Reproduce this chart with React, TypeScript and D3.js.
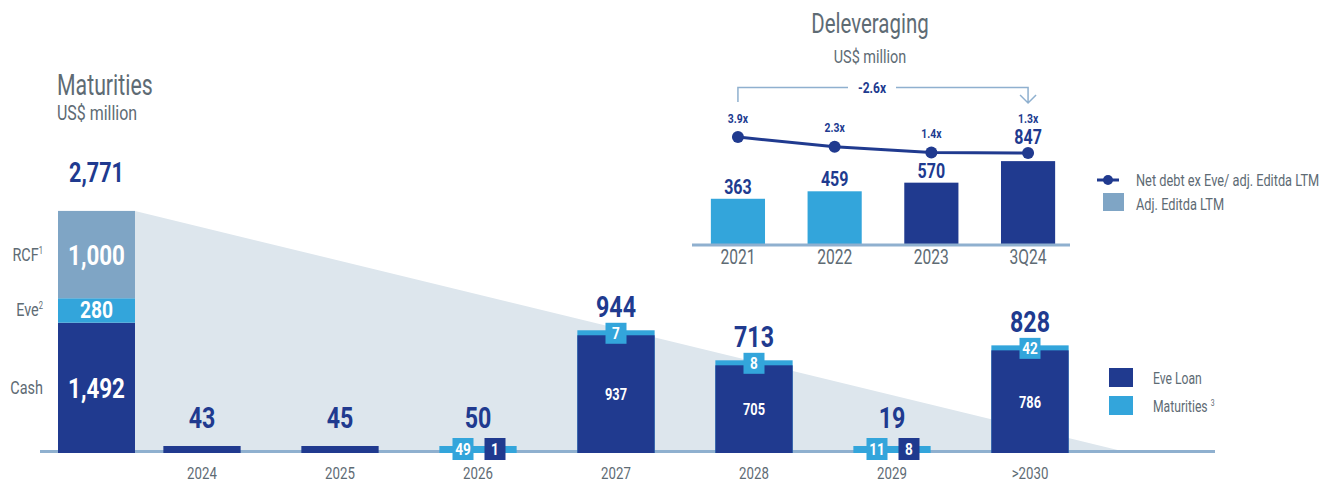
import React from 'react';
import * as d3 from 'd3';

// maturities
const years = ['2024', '2025', '2026', '2027', '2028', '2029', '>2030'];
const eveLoan = [43, 45, 1, 937, 705, 8, 786];
const maturities = [0, 0, 49, 7, 8, 11, 42];
const totals = [43, 45, 50, 944, 713, 19, 828];

// liquidity bar
const liqNames = ['Cash', 'Eve', 'RCF'];
const liqSup = ['', '2', '1'];
const liqValues = [1492, 280, 1000];
const liqTotal = 2771;

// deleveraging inset
const periods = ['2021', '2022', '2023', '3Q24'];
const ebitda = [363, 459, 570, 847];
const leverage = [3.9, 2.3, 1.4, 1.3];
const leverageLabels = ['3.9x', '2.3x', '1.4x', '1.3x'];
const deltaLabel = '-2.6x';

const DARK = '#203a8f';
const LIGHT = '#33a5db';
const STEEL = '#7fa5c5';
const SHADE = '#dde6ed';
const AXIS = '#8fb0cf';
const GREY = '#5e6b74';
const FONT = 'Roboto, "Liberation Sans", sans-serif';

const fmt = d3.format(',');

// narrow text: the original uses a condensed face, so squeeze Roboto horizontally
const T = ({ x, y, size, bold = false, fill = GREY, anchor = 'start', sx = 0.76, children }: any) => (
  <text transform={`translate(${x},${y}) scale(${sx},1)`} fontSize={size} fontWeight={bold ? 'bold' : 'normal'}
    fill={fill} textAnchor={anchor} fontFamily={FONT}>{children}</text>
);

export default function App() {
  const W = 1333, H = 482;
  const base = 453;

  const x = d3.scaleBand().domain(years).range([133, 1099]).paddingInner(0.44).paddingOuter(0.22);
  const y = d3.scaleLinear().domain([0, 1000]).range([base, base - 130]);
  const yLiq = d3.scaleLinear().domain([0, liqTotal]).range([base, 211]);
  const liqX = 58, liqW = 77;

  let acc = 0;
  const liqSegs = liqValues.map((v, i) => {
    const s = { name: liqNames[i], sup: liqSup[i], v, y0: acc, y1: acc + v };
    acc += v;
    return s;
  });
  const liqColors = [DARK, LIGHT, STEEL];

  // inset scales
  const iBase = 245;
  const xi = d3.scaleBand().domain(periods).range([692, 1074]).paddingInner(0.44).paddingOuter(0.195);
  const yi = d3.scaleLinear().domain([0, 900]).range([iBase - 18, iBase - 88]);
  const yl = d3.scaleLinear().domain([0, 3.9]).range([161, 137]);
  const icx = (k: string) => xi(k)! + xi.bandwidth() / 2;
  const line = d3.line<number>().x((_, i) => icx(periods[i])).y(d => yl(d));

  const bw = x.bandwidth();
  const cx = (k: string) => x(k)! + bw / 2;

  const firstC = icx(periods[0]);
  const lastC = icx(periods[periods.length - 1]);

  return (
    <svg width={W} height={H} style={{ position: 'absolute', left: 0, top: 0 }} fontFamily={FONT}>
      {/* shaded wedge */}
      <polygon points={`${liqX + liqW},${yLiq(liqTotal)} 1130,${base} ${liqX + liqW},${base}`} fill={SHADE} />
      <line x1={40} x2={1215} y1={451.5} y2={451.5} stroke={AXIS} strokeWidth={3} />

      {/* titles */}
      <T x={57} y={95} size={30} sx={0.71}>Maturities</T>
      <T x={57} y={120} size={21} sx={0.76}>US$ million</T>

      {/* liquidity bar */}
      {liqSegs.map((s, i) => {
        const mid = (yLiq(s.y0) + yLiq(s.y1)) / 2;
        return (
          <g key={s.name}>
            <rect x={liqX} width={liqW} y={yLiq(s.y1)} height={yLiq(s.y0) - yLiq(s.y1)} fill={liqColors[i]} />
            <T x={liqX + liqW / 2} y={mid + (i === 1 ? 8 : 10)} size={i === 1 ? 24 : 28} bold fill="#fff" anchor="middle" sx={0.8}>
              {fmt(s.v)}
            </T>
            <T x={43} y={mid + 6} size={19} anchor="end">
              {s.name}{s.sup && <tspan fontSize={10} dy="-0.7em">{s.sup}</tspan>}
            </T>
          </g>
        );
      })}
      <T x={liqX + liqW / 2} y={yLiq(liqTotal) - 29} size={27} bold fill={DARK} anchor="middle" sx={0.8}>
        {fmt(liqTotal)}
      </T>

      {/* maturity bars */}
      {years.map((k, i) => {
        const c = cx(k);
        const tTop = y(eveLoan[i] + maturities[i]);
        const small = totals[i] < 100;
        const strip = 5;
        return (
          <g key={k}>
            {small ? (
              <rect x={x(k)} width={bw} y={base - 7} height={7} fill={maturities[i] > 0 ? LIGHT : DARK} />
            ) : (
              <>
                <rect x={x(k)} width={bw} y={tTop} height={base - tTop} fill={LIGHT} />
                <rect x={x(k)} width={bw} y={tTop + strip} height={base - tTop - strip} fill={DARK} />
                <T x={c} y={(tTop + strip + base) / 2 + 6} size={16} bold fill="#fff" anchor="middle" sx={0.8}>{eveLoan[i]}</T>
                <rect x={c - 10.5} width={21} y={tTop - 7.5} height={21} fill={LIGHT} />
                <T x={c} y={tTop + 9} size={17} bold fill="#fff" anchor="middle" sx={0.8}>{maturities[i]}</T>
              </>
            )}
            {small && maturities[i] > 0 && (
              <>
                <rect x={c - 25.5} width={21} y={base - 15} height={22} fill={LIGHT} />
                <T x={c - 15} y={base + 2} size={17} bold fill="#fff" anchor="middle" sx={0.8}>{maturities[i]}</T>
                <rect x={c + 6.5} width={21} y={base - 15} height={22} fill={DARK} />
                <T x={c + 17} y={base + 2} size={17} bold fill="#fff" anchor="middle" sx={0.8}>{eveLoan[i]}</T>
              </>
            )}
            <T x={c} y={(small ? base - 35 : tTop - 23) + 10} size={29} bold fill={DARK} anchor="middle" sx={0.8}>{totals[i]}</T>
            <T x={c} y={479} size={17} anchor="middle" sx={0.78}>{k}</T>
          </g>
        );
      })}

      {/* maturity legend */}
      <rect x={1109} y={368} width={24} height={19} fill={DARK} />
      <T x={1153} y={384} size={16}>Eve Loan</T>
      <rect x={1109} y={396} width={24} height={19} fill={LIGHT} />
      <T x={1153} y={412} size={16}>
        Maturities <tspan fontSize={9} dy="-0.7em">3</tspan>
      </T>

      {/* deleveraging inset */}
      <T x={870} y={33} size={28} anchor="middle" sx={0.73}>Deleveraging</T>
      <T x={870} y={63} size={19} anchor="middle">US$ million</T>

      <path d={`M${firstC},102 V87.5 H848 M896,87.5 H${lastC} V103 M${lastC - 8},95 L${lastC},103 L${lastC + 8},95`}
        fill="none" stroke={AXIS} strokeWidth={1.5} />
      <T x={872} y={93} size={15} bold fill={DARK} anchor="middle" sx={0.8}>{deltaLabel}</T>

      {periods.map((p, i) => {
        const c = icx(p);
        const top = yi(ebitda[i]);
        const ly = yl(leverage[i]);
        // lift the value above the line where the bar reaches it
        const valY = top - 12 - 10 < ly + 8 ? ly - 16 : top - 12;
        return (
          <g key={p}>
            <rect x={xi(p)} width={xi.bandwidth()} y={top} height={iBase - top} fill={i < 2 ? LIGHT : DARK} />
            <T x={c} y={valY + 7} size={20} bold fill={DARK} anchor="middle" sx={0.8}>{ebitda[i]}</T>
            <T x={c} y={264} size={20} anchor="middle" sx={0.78}>{p}</T>
          </g>
        );
      })}
      <line x1={692} x2={1070} y1={245} y2={245} stroke={AXIS} strokeWidth={3} />
      <path d={line(leverage) ?? ''} fill="none" stroke={DARK} strokeWidth={3} />
      {periods.map((p, i) => {
        const c = icx(p);
        const ly = yl(leverage[i]);
        const lblY = i === periods.length - 1 ? ly - 35 : ly - 19;
        return (
          <g key={'l' + p}>
            <circle cx={c} cy={ly} r={6} fill={DARK} />
            <T x={c} y={lblY + 4.5} size={13} bold fill={DARK} anchor="middle" sx={0.8}>{leverageLabels[i]}</T>
          </g>
        );
      })}

      {/* inset legend */}
      <line x1={1097} x2={1119} y1={180} y2={180} stroke={DARK} strokeWidth={3} />
      <circle cx={1108} cy={180} r={5} fill={DARK} />
      <T x={1136} y={186} size={16} sx={0.8}>Net debt ex Eve/ adj. Editda LTM</T>
      <rect x={1103} y={193} width={21} height={18} fill={STEEL} />
      <T x={1136} y={210} size={16} sx={0.8}>Adj. Editda LTM</T>
    </svg>
  );
}
